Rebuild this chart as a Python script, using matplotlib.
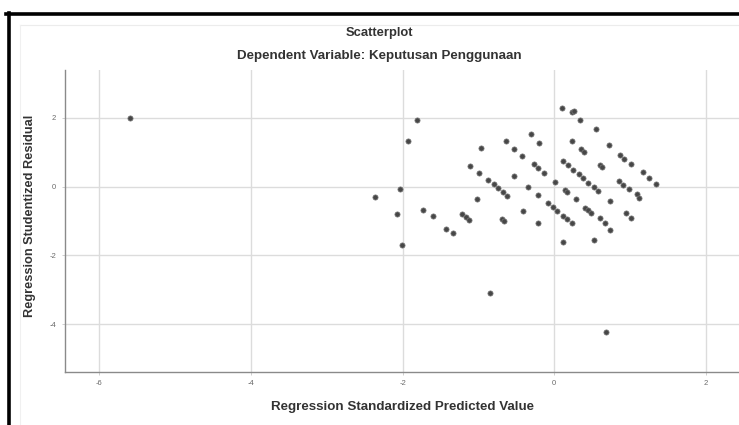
import matplotlib
matplotlib.use("Agg")
import matplotlib.pyplot as plt
from matplotlib.lines import Line2D

plt.rcParams['font.family'] = ['Liberation Sans', 'DejaVu Sans']

title_lines = ["Scatterplot", "Dependent Variable: Keputusan Penggunaan"]
x_label = "Regression Standardized Predicted Value"
y_label = "Regression Studentized Residual"
x_ticks = [-6, -4, -2, 0, 2]
y_ticks = [-4, -2, 0, 2]

predicted = [
    -5.60, -2.37, -2.03, -2.08, -2.01, -1.93, -1.81, -1.73, -1.60, -1.43,
    -1.33, -1.22, -1.17, -1.12, -1.11, -1.02, -0.99, -0.97, -0.87, -0.80,
    -0.74, -0.68, -0.62, -0.85, -0.69, -0.66, -0.64, -0.53, -0.53, -0.42,
    -0.41, -0.34, -0.31, -0.27, -0.21, -0.14, -0.21, -0.21, -0.20, 0.01,
    -0.08, -0.01, 0.04, 0.11, 0.17, 0.23, 0.10, 0.23, 0.26, 0.34,
    0.55, 0.23, 0.35, 0.39, 0.72, 0.11, 0.18, 0.25, 0.32, 0.38,
    0.45, 0.52, 0.58, 0.14, 0.17, 0.29, 0.40, 0.45, 0.49, 0.60,
    0.63, 0.12, 0.52, 0.60, 0.67, 0.74, 0.73, 0.87, 0.92, 1.01,
    1.17, 1.25, 1.34, 0.86, 0.91, 0.98, 1.09, 1.12, 0.95, 1.01,
    0.68,
]
residual = [
    1.99, -0.30, -0.08, -0.79, -1.70, 1.32, 1.93, -0.68, -0.86, -1.23,
    -1.36, -0.81, -0.88, -0.97, 0.60, -0.35, 0.38, 1.12, 0.19, 0.07,
    -0.05, -0.15, -0.28, -3.09, -0.93, -1.01, 1.33, 1.09, 0.31, 0.89,
    -0.70, 0.00, 1.52, 0.65, 0.53, 0.40, -0.25, -1.07, 1.27, 0.14,
    -0.49, -0.60, -0.72, -0.85, -0.95, -1.07, 2.28, 2.17, 2.20, 1.93,
    1.67, 1.32, 1.10, 0.99, 1.20, 0.75, 0.62, 0.49, 0.36, 0.24,
    0.11, 0.00, -0.13, -0.10, -0.15, -0.37, -0.61, -0.69, -0.78, 0.62,
    0.57, -1.62, -1.55, -0.92, -1.07, -1.25, -0.41, 0.91, 0.80, 0.65,
    0.41, 0.24, 0.07, 0.16, 0.04, -0.08, -0.23, -0.32, -0.78, -0.92,
    -4.23,
]

W, H = 739, 425
fig = plt.figure(figsize=(W / 100, H / 100), dpi=100)
fig.patch.set_facecolor('white')

left_px, right_px, top_px, bottom_px = 64.5, 740, 70, 372
ax = fig.add_axes([left_px / W, 1 - bottom_px / H, (right_px - left_px) / W, (bottom_px - top_px) / H])
ax.set_xlim(-6.46, 2.45)
ax.set_ylim(-5.38, 3.38)

ax.set_xticks(x_ticks)
ax.set_yticks(y_ticks)
ax.set_xticklabels([str(t) for t in x_ticks])
ax.set_yticklabels([str(t) for t in y_ticks])
ax.grid(True, color='#dcdcdc', linewidth=1.0)
ax.set_axisbelow(True)
for s in ['top', 'right']:
    ax.spines[s].set_visible(False)
for s in ['left', 'bottom']:
    ax.spines[s].set_color('#8a8a8a')
    ax.spines[s].set_linewidth(1.0)
ax.tick_params(axis='both', length=2, width=0.6, color='#c8c8c8',
               labelsize=5.5, labelcolor='#6a6a6a', pad=4)

ax.scatter(predicted, residual, s=14, color='#474747', edgecolors='#7a7a7a',
           linewidths=0.5, zorder=3)

ax.set_xlabel(x_label, fontsize=9.6, fontweight='bold', color='#333333', labelpad=10)
fig.text(30 / W, 1 - 216 / H, y_label, ha='center', va='center', rotation=90,
         fontsize=9.2, fontweight='bold', color='#333333')
fig.text(379 / W, 1 - 33 / H, title_lines[0], ha='center', va='center',
         fontsize=9.4, fontweight='bold', color='#333333')
fig.text(379 / W, 1 - 55.5 / H, title_lines[1], ha='center', va='center',
         fontsize=9.6, fontweight='bold', color='#333333')

# faint outer chart frame
fig.add_artist(Line2D([20 / W, 1], [1 - 25 / H, 1 - 25 / H], color='#ececec', linewidth=0.8))
fig.add_artist(Line2D([20 / W, 20 / W], [1 - 25 / H, 0], color='#f0f0f0', linewidth=0.8))
# black selection border (top and left)
fig.add_artist(Line2D([6 / W, 1], [1 - 14 / H, 1 - 14 / H], color='black', linewidth=2.6))
fig.add_artist(Line2D([8.5 / W, 8.5 / W], [1 - 13 / H, 0], color='black', linewidth=2.6))

fig.savefig('out.png', dpi=100, facecolor='white')
